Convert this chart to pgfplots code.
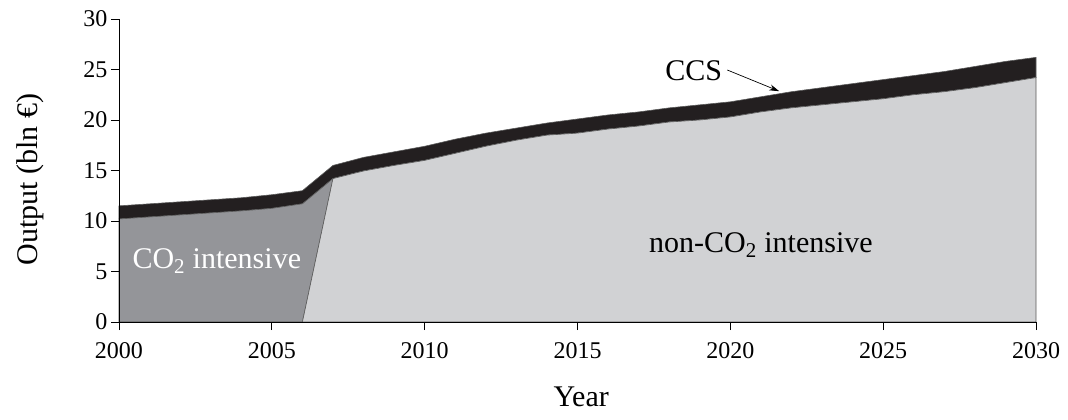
\documentclass[border=0pt]{standalone}
\usepackage{fontspec}
\setmainfont{Liberation Serif}
\usepackage{pgfplots}
\usepackage{pgfplotstable}
\pgfplotsset{compat=1.18}
\usetikzlibrary{arrows.meta}
\definecolor{co2}{RGB}{148,149,153}
\definecolor{nonco2}{RGB}{209,210,212}
\definecolor{ccs}{RGB}{35,31,32}
\definecolor{edge}{RGB}{90,90,90}

\pgfplotstableread{
year non co2 ccs
2000 0 10.2 1.3
2001 0 10.4 1.3
2002 0 10.6 1.3
2003 0 10.8 1.3
2004 0 11.0 1.3
2005 0 11.25 1.35
2006 0 11.7 1.3
2007 14.2 0 1.3
2008 14.95 0 1.35
2009 15.5 0 1.35
2010 16.0 0 1.4
2011 16.7 0 1.4
2012 17.4 0 1.3
2013 18.0 0 1.2
2014 18.5 0 1.2
2015 18.7 0 1.4
2016 19.1 0 1.4
2017 19.4 0 1.4
2018 19.8 0 1.4
2019 20.0 0 1.5
2020 20.3 0 1.5
2021 20.8 0 1.5
2022 21.2 0 1.6
2023 21.5 0 1.7
2024 21.8 0 1.8
2025 22.1 0 1.9
2026 22.5 0 1.9
2027 22.8 0 2.0
2028 23.2 0 2.1
2029 23.7 0 2.1
2030 24.2 0 2.0
}\data

\begin{document}
\begin{tikzpicture}
\useasboundingbox (-119pt,-98pt) rectangle (949pt,322pt);
\begin{axis}[
  scale only axis, width=917pt, height=303pt,
  xmin=2000, xmax=2030, ymin=0, ymax=30,
  xtick={2000,2005,...,2030}, ytick={0,5,...,30},
  axis x line*=bottom, axis y line*=left,
  axis on top,
  tick align=outside, major tick length=8pt,
  tick style={black, line width=0.8pt},
  axis line style={black, line width=0.8pt},
  /pgf/number format/1000 sep={},
  /pgf/number format/assume math mode=true,
  tick label style={font=\fontsize{24}{28}\selectfont},
  xticklabel style={yshift=-9pt},
  label style={font=\fontsize{30}{34}\selectfont},
  xlabel={Year}, ylabel={Output (bln €)},
  xlabel style={at={(axis description cs:0.504,-0.2475)}, anchor=center},
  ylabel style={at={(axis description cs:-0.097,0.47)}, anchor=center},
  stack plots=y,
  clip=false,
]
\addplot[draw=edge, line width=0.6pt, fill=nonco2] table[x=year,y=non]{\data} \closedcycle;
\addplot[draw=edge, line width=0.6pt, fill=co2] table[x=year,y=co2]{\data} \closedcycle;
\addplot[draw=edge, line width=0.6pt, fill=ccs] table[x=year,y=ccs]{\data} \closedcycle;

\coordinate (tco2) at (axis cs:2003.2,6.0);
\coordinate (tnon) at (axis cs:2021.0,7.6);
\coordinate (tccs) at (axis cs:2018.8,24.9);
\coordinate (atail) at (axis cs:2019.9,24.95);
\coordinate (ahead) at (axis cs:2021.6,22.85);
\end{axis}
\node[font=\fontsize{30}{34}\selectfont, text=white] at (tco2) {CO\textsubscript{2} intensive};
\node[font=\fontsize{30}{34}\selectfont, text=black] at (tnon) {non-CO\textsubscript{2} intensive};
\node[font=\fontsize{30}{34}\selectfont, text=black] at (tccs) {CCS};
\draw[-{Stealth[length=10pt,width=6pt]}, line width=0.7pt, black] (atail) -- (ahead);
\end{tikzpicture}
\end{document}
